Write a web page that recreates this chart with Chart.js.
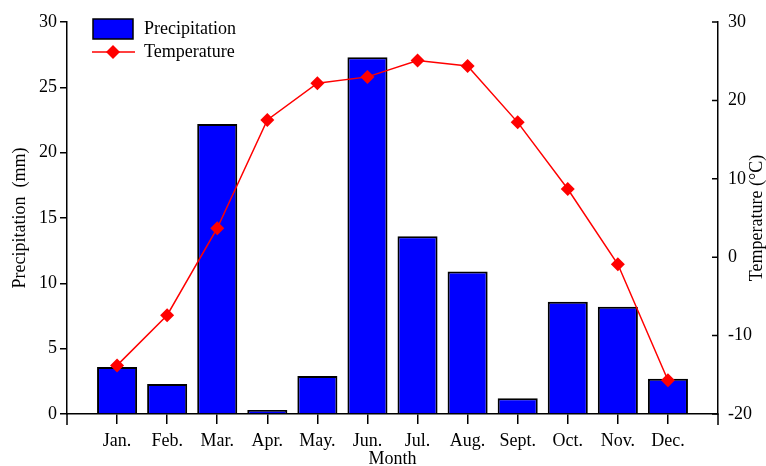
<!DOCTYPE html>
<html>
<head>
<meta charset="utf-8">
<script src="https://cdn.jsdelivr.net/npm/chart.js@4"></script>
<style>
  body { margin: 0; background: #fff; }
  canvas { display: block; }
</style>
</head>
<body>
<canvas id="climateChart" width="766" height="466"></canvas>
<script>
// month labels and readings
const months = ['Jan.', 'Feb.', 'Mar.', 'Apr.', 'May.', 'Jun.', 'Jul.', 'Aug.', 'Sept.', 'Oct.', 'Nov.', 'Dec.'];
const precipitation = [3.6, 2.3, 22.2, 0.3, 2.9, 27.3, 13.6, 10.9, 1.2, 8.6, 8.2, 2.7];
const temperature = [-13.8, -7.4, 3.7, 17.5, 22.2, 23.0, 25.1, 24.4, 17.2, 8.7, -0.9, -15.7];
const precipTicks = [0, 5, 10, 15, 20, 25, 30];
const tempTicks = [-20, -10, 0, 10, 20, 30];

const serif = 'Liberation Serif';

// extra drawing: legend in the corner, right axis title, inward ticks on right axis
const extrasPlugin = {
    id: 'extras',
    afterDraw: function (chart) {
        var ctx = chart.ctx;
        var area = chart.chartArea;
        var y1 = chart.scales.y1;

        ctx.save();
        ctx.strokeStyle = '#000';
        ctx.lineWidth = 1.5;

        // axis lines run a bit below the x axis
        ctx.beginPath();
        ctx.moveTo(area.left, area.bottom);
        ctx.lineTo(area.left, area.bottom + 11);
        ctx.moveTo(area.right, area.bottom);
        ctx.lineTo(area.right, area.bottom + 11);
        ctx.stroke();

        // right axis ticks point inward
        ctx.beginPath();
        y1.ticks.forEach(function (t) {
            var py = y1.getPixelForValue(t.value);
            ctx.moveTo(area.right - 6, py);
            ctx.lineTo(area.right, py);
        });
        ctx.stroke();

        // right axis title, reading bottom to top
        ctx.fillStyle = '#000';
        ctx.font = '18px "' + serif + '"';
        ctx.textAlign = 'center';
        ctx.textBaseline = 'middle';
        ctx.translate(757, (area.top + area.bottom) / 2);
        ctx.rotate(-Math.PI / 2);
        ctx.fillText('Temperature (°C)', 0, 0);
        ctx.restore();

        // legend
        ctx.save();
        ctx.fillStyle = '#0000FF';
        ctx.fillRect(93, 19, 40, 20);
        ctx.strokeStyle = '#000';
        ctx.lineWidth = 1.5;
        ctx.strokeRect(93, 19, 40, 20);

        ctx.strokeStyle = '#FF0000';
        ctx.lineWidth = 1.5;
        ctx.beginPath();
        ctx.moveTo(92, 52);
        ctx.lineTo(135, 52);
        ctx.stroke();
        ctx.fillStyle = '#FF0000';
        ctx.beginPath();
        ctx.moveTo(113, 45);
        ctx.lineTo(120, 52);
        ctx.lineTo(113, 59);
        ctx.lineTo(106, 52);
        ctx.closePath();
        ctx.fill();

        ctx.fillStyle = '#000';
        ctx.font = '18px "' + serif + '"';
        ctx.textAlign = 'left';
        ctx.textBaseline = 'middle';
        ctx.fillText('Precipitation', 144, 29);
        ctx.fillText('Temperature', 144, 52);
        ctx.restore();
    }
};

var ctx = document.getElementById('climateChart').getContext('2d');

var myChart = new Chart(ctx, {
    type: 'bar',
    data: {
        datasets: [
            {
                type: 'line',
                label: 'Temperature',
                yAxisID: 'y1',
                data: temperature.map((v, i) => ({ x: i + 1, y: v })),
                borderColor: '#FF0000',
                backgroundColor: '#FF0000',
                borderWidth: 1.5,
                pointStyle: 'rectRot',
                pointRadius: 7,
                pointBorderWidth: 0,
                tension: 0,
                order: 0
            },
            {
                type: 'bar',
                label: 'Precipitation',
                yAxisID: 'y',
                data: precipitation.map((v, i) => ({ x: i + 1, y: v })),
                backgroundColor: '#0000FF',
                borderColor: '#000',
                borderWidth: 2,
                barPercentage: 0.8,
                categoryPercentage: 1,
                order: 1
            }
        ]
    },
    plugins: [extrasPlugin],
    options: {
        responsive: false,
        animation: false,
        layout: { padding: { top: 22, left: 0, right: 0, bottom: 0 } },
        plugins: {
            legend: { display: false },
            tooltip: { enabled: false }
        },
        scales: {
            x: {
                type: 'linear',
                position: 'bottom',
                offset: false,
                min: 0,
                max: 13,
                afterBuildTicks: function (scale) {
                    scale.ticks = months.map((m, i) => ({ value: i + 1 }));
                },
                afterFit: function (scale) { scale.height = 52; },
                grid: { display: true, offset: false, drawOnChartArea: false, drawTicks: true, tickLength: 10, color: '#000', lineWidth: 1.5 },
                border: { display: true, color: '#000', width: 1.5 },
                ticks: {
                    padding: 6,
                    maxRotation: 0,
                    autoSkip: false,
                    color: '#000',
                    font: { family: serif, size: 18 },
                    callback: function (value) { return months[value - 1] || ''; }
                },
                title: {
                    display: true,
                    text: 'Month',
                    color: '#000',
                    font: { family: serif, size: 18, lineHeight: 0.7 },
                    padding: { top: 0, bottom: 0 }
                }
            },
            y: {
                type: 'linear',
                position: 'left',
                min: 0,
                max: 30,
                afterBuildTicks: function (scale) {
                    scale.ticks = precipTicks.map(v => ({ value: v }));
                },
                afterFit: function (scale) { scale.width = 67; },
                grid: { display: true, drawOnChartArea: false, drawTicks: true, tickLength: 7, color: '#000', lineWidth: 1.5 },
                border: { display: true, color: '#000', width: 1.5 },
                ticks: {
                    padding: 3,
                    color: '#000',
                    font: { family: serif, size: 18 }
                },
                title: {
                    display: true,
                    text: 'Precipitation  (mm)',
                    color: '#000',
                    font: { family: serif, size: 18, lineHeight: 1.2 },
                    padding: { top: 9, bottom: 0 }
                }
            },
            y1: {
                type: 'linear',
                position: 'right',
                min: -20,
                max: 30,
                afterBuildTicks: function (scale) {
                    scale.ticks = tempTicks.map(v => ({ value: v }));
                },
                afterFit: function (scale) { scale.width = 48; },
                grid: { display: true, drawOnChartArea: false, drawTicks: false, color: '#000', lineWidth: 1.5 },
                border: { display: true, color: '#000', width: 1.5 },
                ticks: {
                    padding: 10,
                    color: '#000',
                    font: { family: serif, size: 18 }
                }
            }
        }
    }
});
</script>
</body>
</html>
